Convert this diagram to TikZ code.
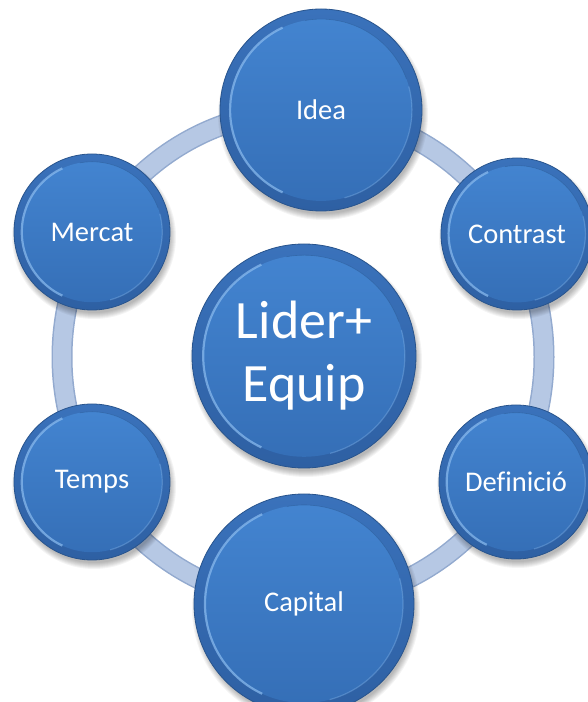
\documentclass[tikz,border=0pt]{standalone}
\usepackage{fontspec}
\setmainfont[Ligatures=NoCommon]{Carlito}
\definecolor{ringfill}{HTML}{B6C8E4}
\definecolor{ringedge}{HTML}{93AACF}
\definecolor{outtop}{HTML}{3A72BB}
\definecolor{outbot}{HTML}{2E60A3}
\definecolor{balledge}{HTML}{28548D}
\definecolor{intop}{HTML}{4384D0}
\definecolor{inbot}{HTML}{356FB7}
\definecolor{hilite}{HTML}{8CBDF0}
\tikzset{
  ballnode/.style={circle, inner sep=0pt, text=white, align=center},
  smalltext/.style={font=\fontsize{28.5}{34}\selectfont},
  bigtext/.style={font=\fontsize{54}{63}\selectfont},
  ringline/.style={line width=21pt, color=ringedge},
  ringcore/.style={line width=18pt, color=ringfill},
}
\newcommand\myball[6]{% name, x, y, r, textstyle, text
  \foreach \k in {1,...,7}{\fill[black, opacity=0.045] (#2+2,#3-5) circle ({#4+5-\k});}
  \shade[top color=outtop, bottom color=outbot] (#2,#3) circle (#4);
  \shade[top color=intop, bottom color=inbot] (#2,#3) circle ({0.9*#4});
  \draw[hilite, line width=2.2pt, opacity=0.7] ([shift={(115:{0.9*#4})}]#2,#3) arc[start angle=115, end angle=245, radius={0.9*#4}];
  \draw[hilite, line width=1.2pt, opacity=0.35] ([shift={(285:{0.9*#4})}]#2,#3) arc[start angle=285, end angle=375, radius={0.9*#4}];
  \draw[inbot!80!black, line width=0.6pt, opacity=0.5] ([shift={(20:{0.9*#4})}]#2,#3) arc[start angle=20, end angle=100, radius={0.9*#4}];
  \draw[balledge, line width=0.8pt] (#2,#3) circle (#4);
  \node[ballnode, #5, minimum size={2*#4}] (#1) at (#2,#3) {#6};
}
\begin{document}
\begin{tikzpicture}[x=1pt, y=1pt]
\useasboundingbox (0,0) rectangle (588,702);
\fill[white] (0,0) rectangle (588,702);
% ring
\draw[ringline] (303,345) ellipse [x radius=241, y radius=246];
\draw[ringcore] (303,345) ellipse [x radius=241, y radius=246];
% balls
\myball{idea}{321}{592}{101}{smalltext}{Idea}
\myball{contrast}{517}{468}{76}{smalltext}{Contrast}
\myball{mercat}{92}{470}{78}{smalltext}{Mercat}
\myball{temps}{92}{220}{78}{smalltext}{Temps}
\myball{definicio}{516}{220}{77}{smalltext}{Definició}
\myball{capital}{304}{98}{110}{smalltext}{Capital}
\myball{lider}{304}{346}{112}{bigtext}{Lider+\\Equip}
\end{tikzpicture}
\end{document}
